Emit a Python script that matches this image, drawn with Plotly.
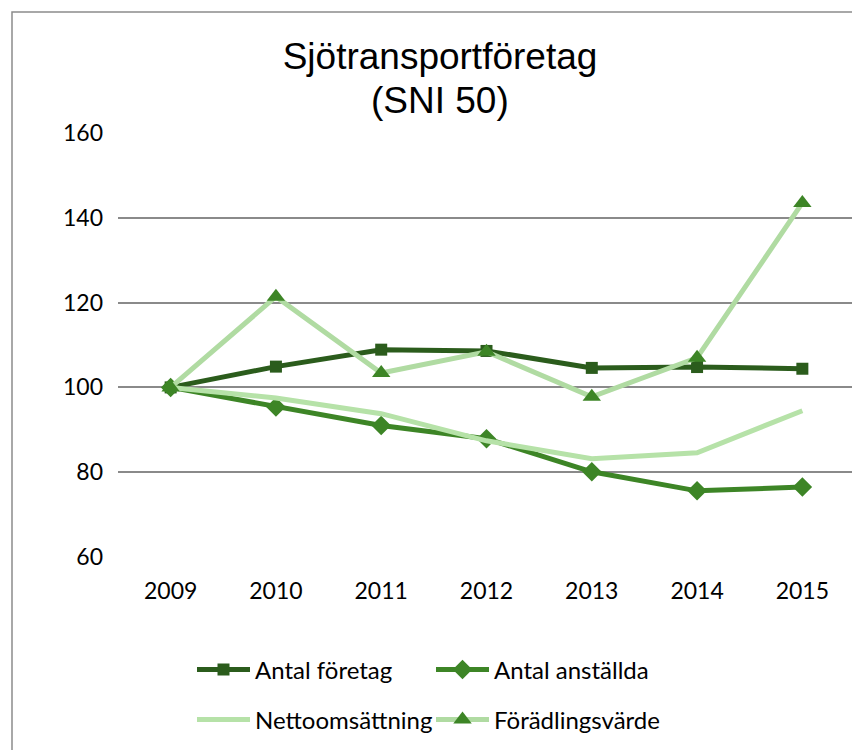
import plotly.graph_objects as go

years = ["2009", "2010", "2011", "2012", "2013", "2014", "2015"]
antal_foretag = [100, 104.9, 108.9, 108.6, 104.6, 104.8, 104.4]
antal_anstallda = [100, 95.4, 91.0, 87.9, 80.1, 75.6, 76.5]
nettoomsattning = [100, 97.5, 93.8, 87.4, 83.2, 84.6, 94.5]
foradlingsvarde = [100, 121.4, 103.4, 108.4, 97.8, 107.0, 143.5]
y_ticks = [60, 80, 100, 120, 140, 160]

# the page body adds an 8px margin, so the figure is laid out 8px smaller
OFF = 8
W, H = 860 - OFF, 750 - OFF
L, T = 118 - OFF, 133 - OFF
R = W - (855 - OFF)
B = H - (557 - OFF)

dark = "#2b5c1c"
mid = "#3d8526"
light = "#b6e2a8"
light2 = "#b0dba2"

fig = go.Figure()
fig.add_trace(go.Scatter(x=years, y=antal_foretag, name="Antal företag", mode="lines+markers",
                         line=dict(color=dark, width=5),
                         marker=dict(symbol="square", size=12, color=dark), legend="legend"))
fig.add_trace(go.Scatter(x=years, y=antal_anstallda, name="Antal anställda", mode="lines+markers",
                         line=dict(color=mid, width=5),
                         marker=dict(symbol="diamond", size=15, color=mid), legend="legend"))
fig.add_trace(go.Scatter(x=years, y=nettoomsattning, name="Nettoomsättning", mode="lines",
                         line=dict(color=light, width=5), legend="legend2"))
fig.add_trace(go.Scatter(x=years, y=foradlingsvarde, name="Förädlingsvärde", mode="lines+markers",
                         line=dict(color=light2, width=5),
                         marker=dict(symbol="triangle-up", size=16, color=mid), legend="legend2"))

pw, ph = W - L - R, H - T - B
def px_x(x):
    return (x - OFF - L) / pw
def px_y(y):
    return (H - B - (y - OFF)) / ph

fig.add_shape(type="rect", xref="paper", yref="paper",
              x0=px_x(12), x1=px_x(890), y0=px_y(790), y1=px_y(12),
              line=dict(color="#8c8c8c", width=1.5), fillcolor="rgba(0,0,0,0)", layer="below")

fig.add_annotation(text="(SNI 50)", xref="paper", yref="paper", x=px_x(440), y=px_y(100),
                   xanchor="center", yanchor="middle", showarrow=False,
                   font=dict(family="Liberation Sans", size=37, color="black"))

legend_common = dict(orientation="h", xref="container", yref="container", xanchor="left",
                     yanchor="middle", font=dict(family="Lato", size=24, color="black"),
                     itemwidth=53, entrywidth=171, bgcolor="rgba(0,0,0,0)", traceorder="normal",
                     itemclick=False)

fig.update_layout(
    width=W, height=H,
    margin=dict(l=L, r=R, t=T, b=B, autoexpand=False),
    paper_bgcolor="white", plot_bgcolor="white",
    title=dict(text="Sjötransportföretag", x=(440 - OFF) / W, xref="container", xanchor="center",
               y=1 - (56 - OFF) / H, yref="container", yanchor="middle",
               font=dict(family="Liberation Sans", size=37, color="black")),
    xaxis=dict(type="category", range=[-0.5, 6.5], showgrid=False, zeroline=False,
               showline=False, ticks="", tickfont=dict(family="Lato", size=23, color="black"),
               ticklabelstandoff=18),
    yaxis=dict(range=[60, 160], tickvals=y_ticks, showgrid=True, gridcolor="#8a8a8a", gridwidth=1.5,
               zeroline=False, showline=False, ticks="",
               tickfont=dict(family="Lato", size=23, color="black"), ticklabelstandoff=14),
    legend=dict(x=(192 - OFF) / W, y=1 - (670 - OFF) / H, **legend_common),
    legend2=dict(x=(192 - OFF) / W, y=1 - (720 - OFF) / H, **legend_common),
    showlegend=True,
)

fig.write_html("out.html")
